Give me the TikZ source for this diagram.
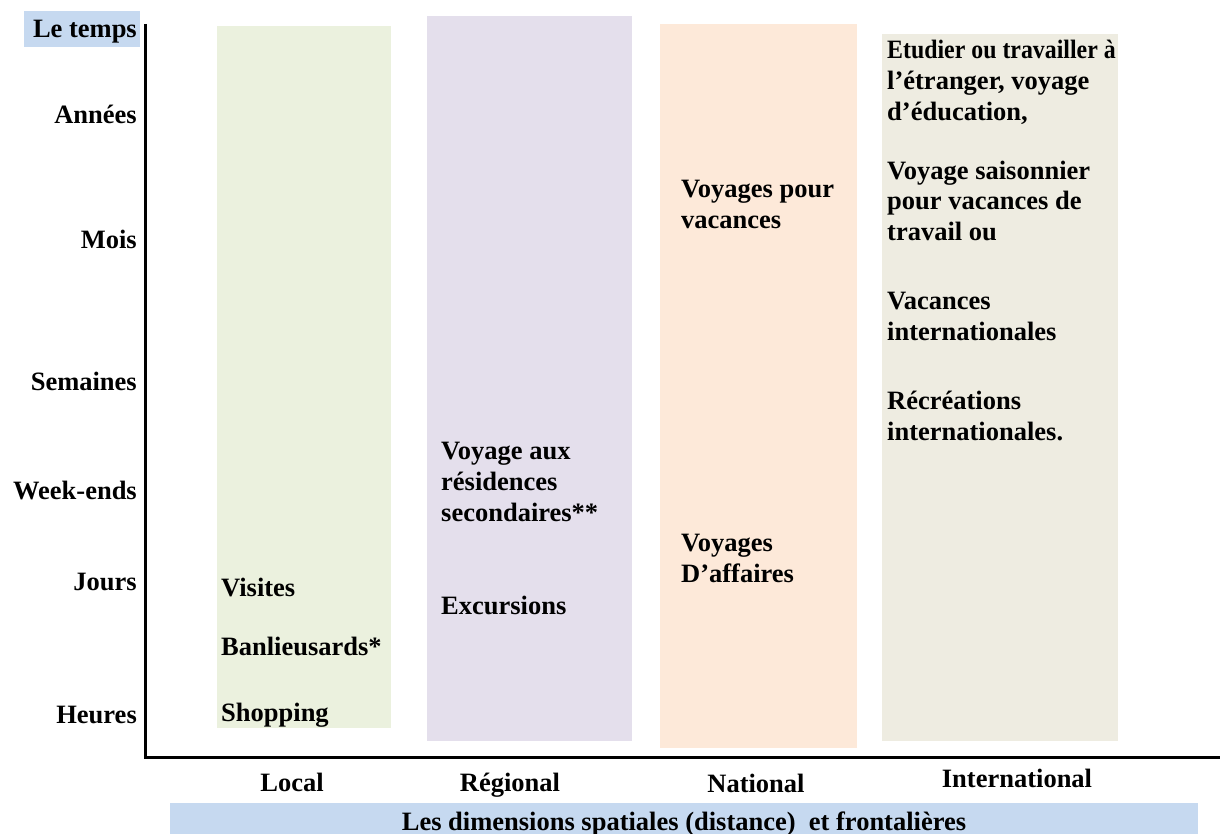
\documentclass[tikz,border=0pt]{standalone}
\usepackage{graphicx}
\usepackage{fontspec}
\setmainfont{Liberation Serif}
\definecolor{cblue}{HTML}{C6D9F0}
\definecolor{cgreen}{HTML}{EBF1DE}
\definecolor{cpurple}{HTML}{E4DFEC}
\definecolor{corange}{HTML}{FDE9D9}
\definecolor{cgrey}{HTML}{EEECE1}
\begin{document}
\begin{tikzpicture}[x=1pt,y=-1pt,
  txt/.style={inner sep=0pt,font=\fontsize{26.5}{31}\selectfont\bfseries,align=left,anchor=base west},
  ylab/.style={inner sep=0pt,font=\fontsize{26.5}{31}\selectfont\bfseries,anchor=base east},
  xlab/.style={inner sep=0pt,font=\fontsize{26.5}{31}\selectfont\bfseries,anchor=base},
  band/.style={draw=none,inner sep=0pt}]
\useasboundingbox (0,0) rectangle (1220,834);
% coloured columns
\fill[cgreen]  (217,26) rectangle (391,728);
\fill[cpurple] (427,16) rectangle (632,741);
\fill[corange] (660,24) rectangle (857,748);
\fill[cgrey]   (882,34) rectangle (1118,741);
% time label
\fill[cblue] (24,11) rectangle (140,47);
\node[ylab] (tm) at (137,38) {Le temps};
% axes
\coordinate (top) at (145,24);
\coordinate (orig) at (145,757);
\coordinate (right) at (1220,757);
\draw[line width=3pt] (top) -- (orig) -- (right);
% y labels
\node[ylab] (yA) at (137,124) {Années};
\node[ylab] (yM) at (137,249) {Mois};
\node[ylab] (yS) at (137,390) {Semaines};
\node[ylab] (yW) at (137,499) {Week-ends};
\node[ylab] (yJ) at (137,590) {Jours};
\node[ylab] (yH) at (137,723) {Heures};
% x labels
\node[xlab] (xL) at (292,791) {Local};
\node[xlab] (xR) at (510,791) {Régional};
\node[xlab] (xN) at (756,792) {National};
\node[xlab] (xI) at (1017,787) {International};
% bottom bar
\fill[cblue] (170,803) rectangle (1198,834);
\node[xlab] (bar) at (684,830) {Les dimensions spatiales (distance)\ \ et frontalières};
% local
\node[txt] (l1) at (221,596) {Visites};
\node[txt] (l2) at (221,655) {Banlieusards*};
\node[txt] (l3) at (221,721) {Shopping};
% regional (anchor = baseline of last line)
\node[txt] (r1) at (441,521) {Voyage aux\\résidences\\secondaires**};
\node[txt] (r2) at (441,614) {Excursions};
% national
\node[txt] (n1) at (681,229) {Voyages pour\\vacances};
\node[txt] (n2) at (681,582) {Voyages\\D’affaires};
% international
\node[txt] (i1) at (887,121) {\scalebox{0.9}[1]{Etudier ou travailler à}\\l’étranger, voyage\\d’éducation,};
\node[txt] (i2) at (887,241) {Voyage saisonnier\\pour vacances de\\travail ou};
\node[txt] (i3) at (887,340) {Vacances\\internationales};
\node[txt] (i4) at (887,440) {Récréations\\internationales.};
\end{tikzpicture}
\end{document}
